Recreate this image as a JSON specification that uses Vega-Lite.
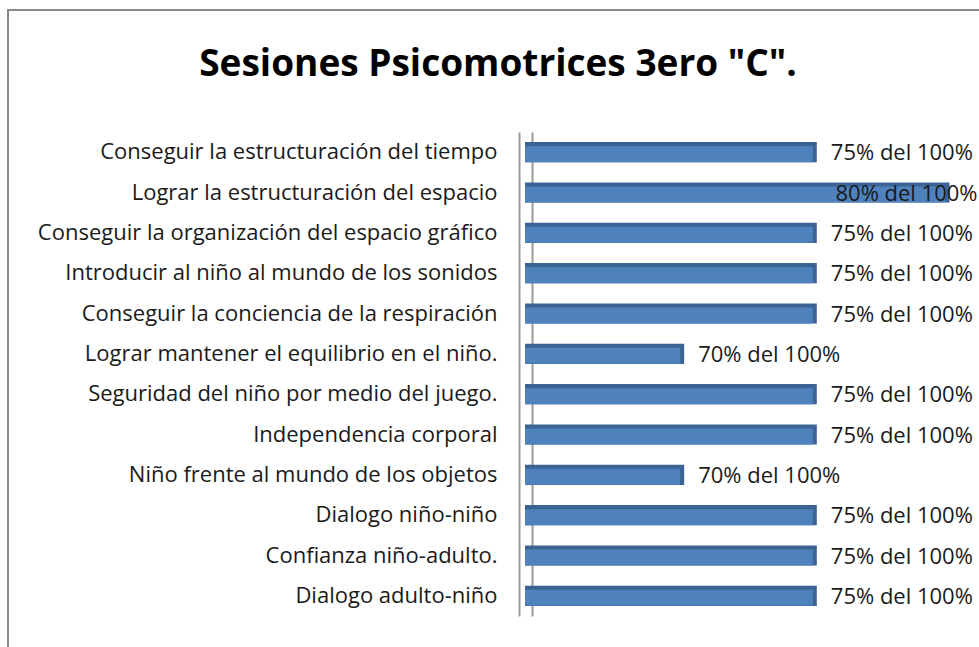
{
  "$schema": "https://vega.github.io/schema/vega-lite/v6.json",
  "width": 980,
  "height": 650,
  "autosize": "none",
  "padding": {"left": 8, "top": 10, "right": 0, "bottom": 0},
  "background": "white",
  "config": {"view": {"stroke": "#8a8a8a", "strokeWidth": 2}, "font": "Open Sans"},
  "title": {"text": "Sesiones Psicomotrices 3ero \"C\".", "font": "Open Sans", "fontSize": 37, "fontWeight": "bold", "color": "#000000", "anchor": "middle", "offset": -74},
  "data": {"values": [
    {"tarea": "Conseguir la estructuración del tiempo", "valor": 75, "etiqueta": "75% del 100%"},
    {"tarea": "Lograr la estructuración del espacio", "valor": 80, "etiqueta": "80% del 100%"},
    {"tarea": "Conseguir la organización del espacio gráfico", "valor": 75, "etiqueta": "75% del 100%"},
    {"tarea": "Introducir al niño al mundo de los sonidos", "valor": 75, "etiqueta": "75% del 100%"},
    {"tarea": "Conseguir la conciencia de la respiración", "valor": 75, "etiqueta": "75% del 100%"},
    {"tarea": "Lograr mantener el equilibrio en el niño.", "valor": 70, "etiqueta": "70% del 100%"},
    {"tarea": "Seguridad del niño por medio del juego.", "valor": 75, "etiqueta": "75% del 100%"},
    {"tarea": "Independencia corporal", "valor": 75, "etiqueta": "75% del 100%"},
    {"tarea": "Niño frente al mundo de los objetos", "valor": 70, "etiqueta": "70% del 100%"},
    {"tarea": "Dialogo niño-niño", "valor": 75, "etiqueta": "75% del 100%"},
    {"tarea": "Confianza niño-adulto.", "valor": 75, "etiqueta": "75% del 100%"},
    {"tarea": "Dialogo adulto-niño", "valor": 75, "etiqueta": "75% del 100%"}
  ]},
  "resolve": {"axis": {"y": "independent"}},
  "layer": [
    {
      "mark": {"type": "bar", "color": "#3b6495"},
      "encoding": {
        "x": {"field": "valor", "type": "quantitative", "scale": {"domain": [64, 81], "range": [517, 968], "zero": false, "nice": false}, "axis": null},
        "x2": {"datum": 64},
        "y": {"field": "tarea", "type": "nominal", "sort": null,
              "scale": {"range": [122, 606], "paddingInner": 0.5, "paddingOuter": 0.25},
              "axis": {"orient": "left", "offset": -511, "domainColor": "#9a9a9a", "domainWidth": 2, "ticks": false, "labelPadding": 22, "labelFont": "Open Sans", "labelFontSize": 22, "labelColor": "#1a1a1a", "title": null, "labelLimit": 0, "grid": false}}
      }
    },
    {
      "mark": {"type": "bar", "color": "#4f81bd", "height": 16, "yOffset": 2, "xOffset": -4},
      "encoding": {
        "x": {"field": "valor", "type": "quantitative"},
        "x2": {"datum": 64},
        "y": {"field": "tarea", "type": "nominal", "sort": null,
              "axis": {"orient": "left", "offset": -524, "domainColor": "#9a9a9a", "domainWidth": 2, "ticks": false, "labels": false, "title": null, "grid": false}}
      }
    },
    {
      "transform": [{"filter": "datum.valor < 80"}],
      "mark": {"type": "text", "align": "left", "baseline": "middle", "dx": 14, "dy": 1, "font": "Open Sans", "fontSize": 22, "color": "#1a1a1a"},
      "encoding": {
        "x": {"field": "valor", "type": "quantitative"},
        "y": {"field": "tarea", "type": "nominal", "sort": null, "axis": null},
        "text": {"field": "etiqueta"}
      }
    },
    {
      "transform": [{"filter": "datum.valor >= 80"}],
      "mark": {"type": "text", "align": "left", "baseline": "middle", "dx": -114, "dy": 1, "font": "Open Sans", "fontSize": 22, "color": "#1a1a1a"},
      "encoding": {
        "x": {"field": "valor", "type": "quantitative"},
        "y": {"field": "tarea", "type": "nominal", "sort": null, "axis": null},
        "text": {"field": "etiqueta"}
      }
    }
  ]
}
